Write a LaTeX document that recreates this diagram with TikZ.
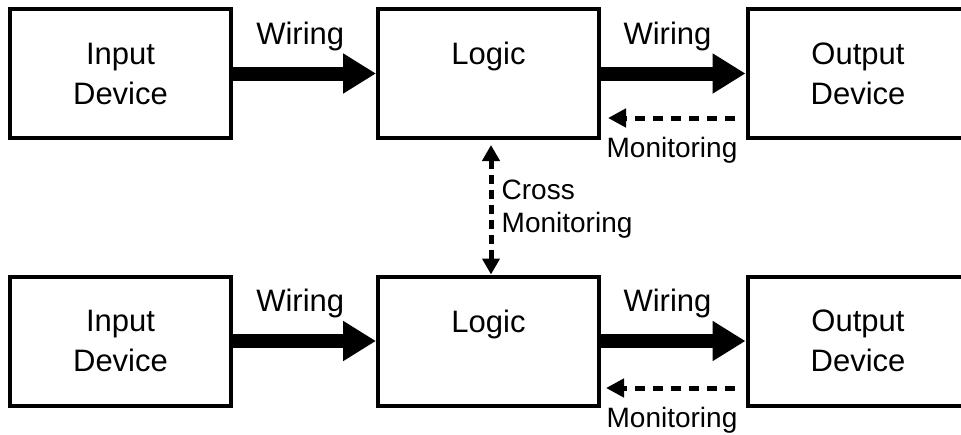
\documentclass[tikz,border=0pt]{standalone}
\usepackage{fontspec}
\setmainfont{Liberation Sans}
\usetikzlibrary{arrows.meta}

\begin{document}
\begin{tikzpicture}[x=1pt,y=-1pt,
        box/.style={draw, line width=4pt, minimum width=221pt, minimum height=129pt, inner sep=0pt, align=center, font=\fontsize{31}{40}\selectfont},
        wire/.style={line width=14pt, -{Triangle[length=33pt,width=38pt]}},
        monitor/.style={line width=5pt, dash pattern=on 10pt off 8pt, -{Triangle[length=18pt,width=18pt]}},
        lbl/.style={inner sep=0pt, font=\fontsize{31}{36}\selectfont},
        small/.style={inner sep=0pt, font=\fontsize{28}{33}\selectfont}]
        \useasboundingbox (0,0) rectangle (961,434);
        \clip (0,0) rectangle (961,434);

        % upper channel
        \node[box] (in1) at (120.5,73.5) {Input\\Device};
        \node[box] (lg1) at (488.5,73.5) {Logic\\\phantom{Device}};
        \node[box] (out1) at (858,73.5) {Output\\Device};

        % lower channel
        \node[box] (in2) at (120.5,341) {Input\\Device};
        \node[box] (lg2) at (488.5,341) {Logic\\\phantom{Device}};
        \node[box] (out2) at (858,341) {Output\\Device};

        \draw[wire] (in1) -- (lg1) node[lbl, pos=0.47, yshift=37pt] (w1) {Wiring};
        \draw[wire] (lg1) -- (out1) node[lbl, pos=0.46, yshift=37pt] (w2) {Wiring};
        \draw[wire] (in2) -- (lg2) node[lbl, pos=0.47, yshift=38pt] (w3) {Wiring};
        \draw[wire] (lg2) -- (out2) node[lbl, pos=0.46, yshift=38pt] (w4) {Wiring};

        \draw[monitor, shorten <=11pt, shorten >=7pt] ([yshift=-44.5pt]out1.west) -- ([yshift=-44.5pt]lg1.east);
        \draw[monitor, shorten <=11pt, shorten >=5pt] ([yshift=-47pt]out2.west) -- ([yshift=-47pt]lg2.east);
        \node[small, anchor=base] (m1) at (672,157) {Monitoring};
        \node[small, anchor=base] (m2) at (672,427.5) {Monitoring};

        % cross monitoring between the two logic units
        \draw[monitor, {Triangle[length=16pt,width=17pt]}-{Triangle[length=16pt,width=17pt]}, dash pattern=on 9pt off 6pt, shorten <=5pt] ([xshift=2.5pt]lg1.south) -- ([xshift=2.5pt]lg2.north);
        \node[small, align=left, anchor=north west] (cm) at (501.5,180) {Cross\\Monitoring};
\end{tikzpicture}
\end{document}
